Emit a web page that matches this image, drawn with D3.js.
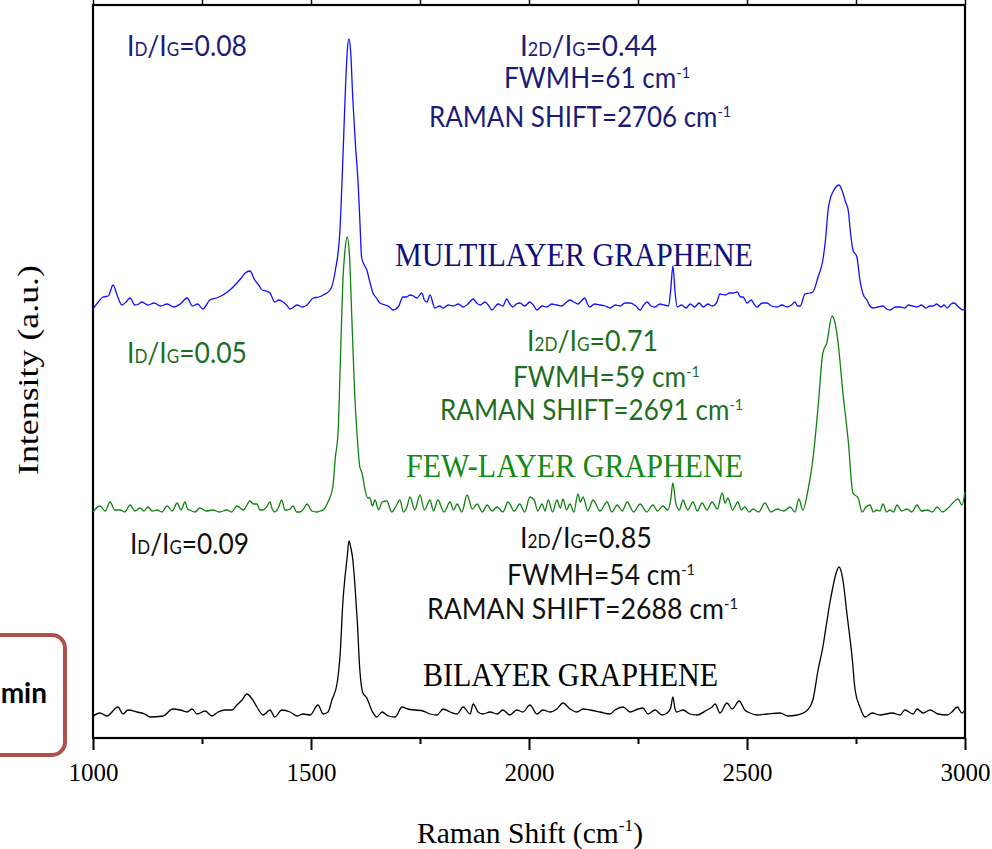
<!DOCTYPE html>
<html>
<head>
<meta charset="utf-8">
<script src="https://cdn.jsdelivr.net/npm/d3@7"></script>
<style>
  body { margin: 0; background: #fff; }
  svg { display: block; }
</style>
</head>
<body>
<svg width="992" height="849"></svg>
<script>
// Raman shift (cm-1), intensity above the trace's own baseline (a.u.)
const multilayer = [
  [1000,1],[1012,8],[1023,13],[1035,14],[1046,25],[1056,14],[1066,5],[1076,8],[1085,12],[1096,5],
  [1105,6],[1112,8],[1126,5],[1140,7],[1155,4],[1170,6],[1185,3],[1200,6],[1216,12],[1228,4],
  [1240,6],[1252,1],[1268,10],[1283,12],[1298,15],[1314,20],[1330,27],[1340,32],[1349,37],[1360,39],
  [1371,30],[1380,25],[1388,20],[1398,19],[1406,17],[1417,8],[1426,10],[1436,8],[1444,5],[1452,1],
  [1468,5],[1480,3],[1491,5],[1505,12],[1518,13],[1528,15],[1544,20],[1556,40],[1566,77],[1573,150],
  [1578,210],[1583,258],[1587,271],[1591,258],[1596,210],[1602,165],[1608,127],[1612,90],[1616,53],[1622,45],
  [1628,40],[1635,28],[1642,17],[1650,12],[1658,7],[1670,5],[1680,3],[1688,0],[1700,3],[1711,13],
  [1719,13],[1727,15],[1735,14],[1743,12],[1754,17],[1760,10],[1766,8],[1773,15],[1784,2],[1795,4],
  [1803,2],[1815,5],[1826,4],[1838,6],[1849,3],[1860,6],[1872,11],[1880,7],[1888,5],[1899,8],
  [1908,4],[1915,0],[1929,6],[1940,4],[1949,11],[1956,6],[1963,3],[1971,6],[1979,7],[1990,4],
  [2002,8],[2010,5],[2018,0],[2030,4],[2041,3],[2052,6],[2064,5],[2075,4],[2084,7],[2094,10],
  [2103,8],[2112,6],[2120,9],[2128,12],[2134,6],[2140,3],[2150,6],[2163,5],[2175,4],[2186,2],
  [2198,5],[2209,4],[2220,7],[2232,7],[2245,4],[2255,0],[2263,5],[2271,8],[2280,4],[2289,3],
  [2300,6],[2310,5],[2320,4],[2325,20],[2330,44],[2335,18],[2340,3],[2350,5],[2360,2],[2370,6],
  [2380,3],[2390,7],[2400,3],[2410,6],[2420,4],[2430,7],[2438,16],[2450,15],[2460,17],[2468,17],
  [2478,18],[2485,13],[2491,13],[2500,7],[2510,10],[2516,6],[2523,3],[2535,7],[2546,7],[2556,4],
  [2569,3],[2580,5],[2592,3],[2602,5],[2610,8],[2616,4],[2622,4],[2633,16],[2645,17],[2651,18],
  [2663,33],[2674,50],[2680,70],[2686,100],[2692,113],[2697,118],[2704,123],[2711,125],[2720,117],[2726,108],
  [2732,100],[2738,75],[2743,60],[2752,53],[2759,30],[2767,15],[2775,10],[2782,4],[2789,2],[2800,3],
  [2812,4],[2820,1],[2828,0],[2840,3],[2851,3],[2862,2],[2870,5],[2880,4],[2890,3],[2900,5],
  [2910,2],[2920,4],[2927,4],[2935,6],[2945,3],[2952,5],[2959,2],[2968,6],[2975,7],[2985,3],
  [2995,0],[3000,1]
];

const fewLayer = [
  [1000,0],[1016,6],[1028,1],[1039,10],[1050,2],[1062,2],[1073,0],[1085,7],[1096,1],[1108,4],
  [1117,1],[1126,5],[1136,1],[1147,2],[1158,0],[1170,6],[1182,1],[1193,9],[1202,2],[1211,10],
  [1217,3],[1222,2],[1234,0],[1245,4],[1260,1],[1275,2],[1290,0],[1307,2],[1318,0],[1330,6],
  [1345,2],[1360,11],[1368,8],[1376,8],[1383,2],[1390,2],[1398,5],[1406,10],[1411,3],[1417,0],
  [1425,4],[1433,12],[1440,2],[1445,2],[1452,3],[1459,6],[1467,0],[1475,0],[1483,3],[1491,8],
  [1502,1],[1514,0],[1521,1],[1528,2],[1539,10],[1550,25],[1556,55],[1562,79],[1568,160],[1573,230],
  [1578,262],[1583,275],[1588,258],[1594,190],[1600,120],[1606,75],[1612,45],[1617,39],[1624,22],[1630,14],
  [1635,14],[1641,6],[1647,12],[1655,2],[1663,10],[1674,11],[1685,0],[1695,6],[1704,12],[1712,0],
  [1720,5],[1727,15],[1738,2],[1750,17],[1760,2],[1773,12],[1781,1],[1791,12],[1805,0],[1819,10],
  [1827,2],[1835,8],[1846,0],[1858,17],[1870,3],[1881,8],[1893,0],[1904,7],[1915,1],[1927,5],
  [1940,0],[1952,10],[1966,1],[1979,8],[1990,0],[2002,15],[2012,12],[2020,1],[2030,8],[2037,1],
  [2044,12],[2054,0],[2064,12],[2072,4],[2078,13],[2086,2],[2094,8],[2103,0],[2112,18],[2118,10],
  [2124,15],[2135,1],[2147,12],[2163,1],[2179,10],[2190,0],[2202,7],[2214,1],[2225,10],[2240,0],
  [2255,8],[2270,0],[2284,7],[2295,1],[2307,6],[2318,2],[2325,12],[2330,29],[2337,8],[2345,2],
  [2353,12],[2364,2],[2376,10],[2386,1],[2397,9],[2408,2],[2420,10],[2432,3],[2443,19],[2450,9],
  [2456,14],[2467,2],[2479,10],[2487,2],[2495,5],[2505,0],[2514,3],[2527,0],[2541,9],[2555,0],
  [2569,3],[2584,1],[2599,5],[2610,0],[2619,13],[2628,2],[2640,22],[2651,52],[2663,105],[2674,159],
  [2683,169],[2695,196],[2702,189],[2709,169],[2720,119],[2732,72],[2743,19],[2755,14],[2764,0],[2773,5],
  [2782,7],[2790,0],[2798,2],[2805,1],[2812,8],[2820,0],[2828,2],[2836,0],[2844,7],[2855,1],
  [2867,3],[2878,0],[2890,7],[2900,1],[2913,2],[2925,0],[2936,5],[2948,0],[2959,3],[2972,9],
  [2984,13],[2993,7],[3000,20]
];

const bilayer = [
  [1000,1],[1016,4],[1032,1],[1057,10],[1069,3],[1080,7],[1101,5],[1119,3],[1131,0],[1161,1],
  [1183,8],[1200,7],[1216,5],[1227,8],[1239,3],[1257,6],[1273,1],[1287,5],[1303,7],[1319,7],
  [1330,12],[1342,17],[1353,23],[1365,18],[1376,10],[1390,2],[1406,7],[1417,0],[1433,7],[1452,5],
  [1468,1],[1482,3],[1498,2],[1516,12],[1528,3],[1539,5],[1548,17],[1560,34],[1567,64],[1573,114],
  [1578,140],[1583,160],[1587,176],[1591,170],[1596,157],[1601,130],[1606,97],[1612,47],[1619,24],[1628,19],
  [1640,6],[1651,0],[1663,5],[1677,1],[1693,0],[1709,10],[1722,8],[1739,7],[1757,6],[1773,3],
  [1789,2],[1803,8],[1819,5],[1835,3],[1849,10],[1865,3],[1872,13],[1883,5],[1894,3],[1911,5],
  [1927,3],[1940,7],[1956,2],[1972,7],[1986,5],[2002,12],[2018,3],[2032,7],[2048,5],[2064,8],
  [2078,14],[2094,8],[2110,5],[2124,8],[2140,7],[2163,5],[2186,3],[2197,7],[2216,10],[2232,5],
  [2250,8],[2261,9],[2273,3],[2289,7],[2305,2],[2317,4],[2325,9],[2330,20],[2335,8],[2339,5],
  [2353,7],[2369,3],[2385,2],[2408,7],[2420,10],[2427,13],[2438,4],[2454,14],[2466,8],[2482,16],
  [2495,7],[2507,4],[2523,2],[2546,3],[2576,4],[2594,1],[2615,2],[2633,5],[2644,10],[2651,17],
  [2663,47],[2674,70],[2683,95],[2690,114],[2697,130],[2702,140],[2711,150],[2720,137],[2729,104],[2741,60],
  [2748,27],[2759,10],[2771,0],[2787,4],[2805,2],[2833,4],[2851,2],[2862,7],[2881,3],[2890,8],
  [2904,4],[2920,7],[2938,3],[2959,2],[2970,5],[2982,10],[2993,4],[3000,7]
];

// vertical stacking of the three spectra
const offsets = [428, 226, 21];

const names = ["MULTILAYER GRAPHENE", "FEW-LAYER GRAPHENE", "BILAYER GRAPHENE"];
const ratioD = ["0.08", "0.05", "0.09"];
const ratio2D = ["0.44", "0.71", "0.85"];
const fwhm = ["61", "59", "54"];
const shift2D = ["2706", "2691", "2688"];

const xTicks = [1000, 1500, 2000, 2500, 3000];
const xMinorTicks = [1250, 1750, 2250, 2750];

const svg = d3.select("svg");
const margin = {top: 5, right: 27, bottom: 111, left: 93};
const width = +svg.attr("width") - margin.left - margin.right;
const height = +svg.attr("height") - margin.top - margin.bottom;

const serif = "'Liberation Serif', 'Times New Roman', serif";
const sans = "Lato, 'Open Sans', sans-serif";

const x = d3.scaleLinear().domain([1000, 3000]).range([0, width]);
const y = d3.scaleLinear().domain([0, 733]).range([height, 0]);

// side label box, partly off the page
svg.append("rect")
    .attr("x", -35).attr("y", 635)
    .attr("width", 100).attr("height", 120)
    .attr("rx", 13)
    .attr("fill", "none")
    .attr("stroke", "#b0504c")
    .attr("stroke-width", 4);

svg.append("text")
    .attr("x", 47).attr("y", 703)
    .attr("text-anchor", "end")
    .attr("font-family", sans)
    .attr("font-weight", "bold")
    .attr("font-size", 28)
    .text("min");

const g = svg.append("g").attr("transform", `translate(${margin.left},${margin.top})`);

// axes
const xAxis = g.append("g")
    .attr("transform", `translate(0,${height})`)
    .call(d3.axisBottom(x).tickValues(xTicks).tickSize(12).tickSizeOuter(0).tickFormat(d3.format("d")));
xAxis.select(".domain").remove();
xAxis.selectAll(".tick line").attr("stroke-width", 2);
xAxis.selectAll(".tick text")
    .attr("y", 43)
    .attr("dy", null)
    .attr("font-family", serif)
    .attr("font-size", 26)
    .attr("textLength", 50)
    .attr("lengthAdjust", "spacingAndGlyphs")
    .attr("fill", "#000");

const xMinor = g.append("g")
    .attr("transform", `translate(0,${height})`)
    .call(d3.axisBottom(x).tickValues(xMinorTicks).tickSize(6).tickSizeOuter(0).tickFormat(""));
xMinor.select(".domain").remove();
xMinor.selectAll(".tick line").attr("stroke-width", 2);

const xTop = g.append("g")
    .call(d3.axisTop(x).tickValues(xTicks.concat(xMinorTicks)).tickSize(6).tickSizeOuter(0).tickFormat(""));
xTop.select(".domain").remove();
xTop.selectAll(".tick line").attr("stroke-width", 1.5);

g.append("rect")
    .attr("width", width).attr("height", height)
    .attr("fill", "none")
    .attr("stroke", "#000")
    .attr("stroke-width", 2.2);

// spectra
const spectra = [multilayer, fewLayer, bilayer];
const lineColors = ["#1010ff", "#118211", "#000"];

spectra.forEach((data, i) => {
    const line = d3.line()
        .x(d => x(d[0]))
        .y(d => y(d[1] + offsets[i]))
        .curve(d3.curveMonotoneX);
    g.append("path")
        .datum(data)
        .attr("fill", "none")
        .attr("stroke", lineColors[i])
        .attr("stroke-width", 1.3)
        .attr("stroke-linejoin", "round")
        .attr("d", line);
});

// annotations
function rich(parts, px, py, len, size, color) {
    const t = svg.append("text")
        .attr("x", px).attr("y", py)
        .attr("font-family", sans)
        .attr("font-size", size)
        .attr("fill", color)
        .attr("textLength", len)
        .attr("lengthAdjust", "spacingAndGlyphs");
    parts.forEach(p => {
        const ts = t.append("tspan").text(p[0]);
        if (p[1] === "sc") ts.attr("font-size", size * 0.64);
        if (p[1] === "sup") ts.attr("font-size", size * 0.55).attr("dy", -size * 0.33);
    });
}

const textColors = ["#1b1b78", "#1f6e1f", "#111"];
const titleColors = ["#10107c", "#138a13", "#000"];
// [IdIg x, y, w], [I2d x, y, w], [fwhm x, y, w], [shift x, y, w], [title x, y, w]
const layout = [
    [[127, 56, 120], [520, 56, 137], [504, 88, 186], [429, 127, 302], [395, 266, 358]],
    [[127, 363, 120], [527, 351, 131], [513, 387, 187], [440, 420, 303], [406, 477, 337]],
    [[130, 554, 119], [520, 548, 132], [507, 585, 188], [427, 619, 311], [423, 686, 295]]
];

names.forEach((name, i) => {
    const L = layout[i];
    const c = textColors[i];
    rich([["I"], ["D", "sc"], ["/I"], ["G", "sc"], ["=" + ratioD[i]]], L[0][0], L[0][1], L[0][2], 29, c);
    rich([["I"], ["2D", "sc"], ["/I"], ["G", "sc"], ["=" + ratio2D[i]]], L[1][0], L[1][1], L[1][2], 29, c);
    rich([["FWMH=" + fwhm[i] + " cm"], ["-1", "sup"]], L[2][0], L[2][1], L[2][2], 29, c);
    rich([["RAMAN SHIFT=" + shift2D[i] + "  cm"], ["-1", "sup"]], L[3][0], L[3][1], L[3][2], 29, c);

    svg.append("text")
        .attr("x", L[4][0]).attr("y", L[4][1])
        .attr("font-family", serif)
        .attr("font-size", 33)
        .attr("fill", titleColors[i])
        .attr("textLength", L[4][2])
        .attr("lengthAdjust", "spacingAndGlyphs")
        .text(name);
});

// axis titles
const xt = svg.append("text")
    .attr("x", 417).attr("y", 843)
    .attr("font-family", serif)
    .attr("font-size", 29)
    .attr("textLength", 226)
    .attr("lengthAdjust", "spacingAndGlyphs");
xt.append("tspan").text("Raman Shift (cm");
xt.append("tspan").attr("font-size", 17).attr("dy", -12).text("-1");
xt.append("tspan").attr("dy", 12).text(")");

svg.append("text")
    .attr("transform", "translate(38,370) rotate(-90)")
    .attr("text-anchor", "middle")
    .attr("font-family", serif)
    .attr("font-size", 30)
    .attr("textLength", 210)
    .attr("lengthAdjust", "spacingAndGlyphs")
    .text("Intensity (a.u.)");
</script>
</body>
</html>
